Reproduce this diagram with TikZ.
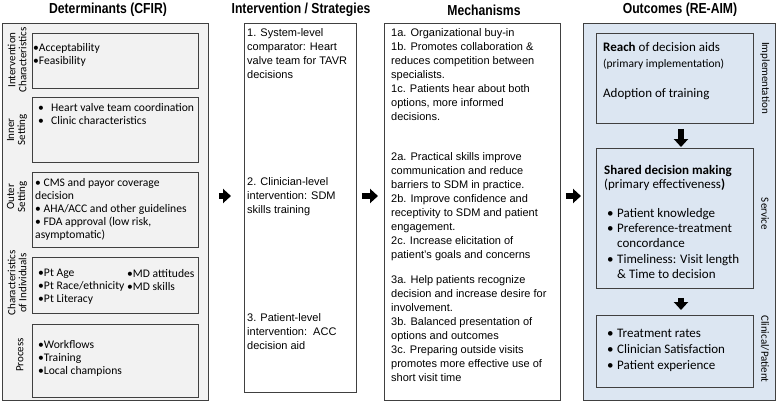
\documentclass[tikz,border=0pt]{standalone}
\usepackage{fontspec}
\setmainfont{Liberation Sans}
\newfontfamily\calibri{Carlito}
\newfontfamily\titlefont[FakeStretch=0.84]{Liberation Sans}
\usetikzlibrary{arrows.meta}
\definecolor{detgray}{HTML}{F2F2F2}
\definecolor{outblue}{HTML}{DCE6F2}
\definecolor{edgegray}{HTML}{404040}
\newcommand{\gapbullet}{\makebox[13pt][l]{•}}
\newcommand{\outbullet}{\makebox[10pt][l]{•}}

\begin{document}
\begin{tikzpicture}[x=1pt,y=-1pt,
    panel/.style={draw=edgegray, line width=0.8pt, inner sep=0pt, anchor=north west},
    fatarrow/.style={line width=6.5pt, -{Triangle[length=8pt,width=14pt]}},
    heading/.style={font=\titlefont\bfseries\fontsize{14.5}{16}\selectfont},
    arialtext/.style={anchor=north west, align=left, inner sep=0pt, font=\fontsize{11}{14.1}\selectfont},
    caltext/.style={anchor=north west, align=left, inner sep=0pt, font=\calibri\fontsize{11.6}{13}\selectfont},
    outtext/.style={anchor=north west, align=left, inner sep=0pt, font=\calibri\fontsize{13}{15.3}\selectfont},
    leftlab/.style={rotate=90, align=center, inner sep=0pt, font=\calibri\fontsize{11}{11}\selectfont},
    rightlab/.style={rotate=-90, inner sep=0pt, font=\calibri\fontsize{11}{12}\selectfont}]
    \useasboundingbox (0,0) rectangle (777,402);

    % Column headings
    \node[heading] (hdet) at (108,10) {Determinants (CFIR)};
    \node[heading] (hint) at (301,10) {Intervention / Strategies};
    \node[heading] (hmech) at (484,10) {Mechanisms};
    \node[heading] (hout) at (680,10) {Outcomes (RE-AIM)};

    % Draw the four column panels
    \node[panel, fill=detgray, minimum width=206pt, minimum height=377pt] (det) at (2,23) {};
    \node[panel, fill=white, minimum width=112pt, minimum height=369pt] (int) at (244,23) {};
    \node[panel, fill=white, minimum width=176pt, minimum height=377pt] (mech) at (384,23) {};
    \node[panel, fill=outblue, minimum width=192pt, minimum height=377pt] (out) at (583,23) {};

    % Draw the CFIR domain boxes
    \foreach \n/\t/\h in {d1/33/55pt, d2/97/65pt, d3/172/75pt, d4/257/56pt, d5/324/73pt}
        \node[panel, fill=detgray, minimum width=166pt, minimum height=\h] (\n) at (32,\t) {};

    % Draw the RE-AIM boxes
    \node[panel, fill=outblue, minimum width=157pt, minimum height=90pt] (reach) at (596,33) {};
    \node[panel, fill=outblue, minimum width=157pt, minimum height=140pt] (sdm) at (596,148) {};
    \node[panel, fill=outblue, minimum width=157pt, minimum height=72pt] (clin) at (596,315) {};

    % Domain labels
    \node[leftlab] (l1) at (17,60) {Intervention\\Characteristics};
    \node[leftlab] (l2) at (17,130) {Inner\\Setting};
    \node[leftlab] (l3) at (17,197) {Outer\\Setting};
    \node[leftlab] (l4) at (17,283) {Characteristics\\of Individuals};
    \node[leftlab] (l5) at (20,355) {Process};
    \node[rightlab] (r1) at (765,78) {Implementation};
    \node[rightlab] (r2) at (765,214) {Service};
    \node[rightlab] (r3) at (765,349) {Clinical/Patient};

    % Determinants
    \node[caltext] (t1) at (33,43) {•Acceptability\\•Feasibility};
    \node[caltext] (t2) at (38,103) {\gapbullet Heart valve team coordination\\\gapbullet Clinic characteristics};
    \node[caltext] (t3) at (35,178) {• CMS and payor coverage\\decision\\• AHA/ACC and other guidelines\\• FDA approval (low risk,\\asymptomatic)};
    \node[caltext] (t4) at (38,269) {•Pt Age\\•Pt Race/ethnicity\\•Pt Literacy};
    \node[caltext] (t4b) at (127,269) {•MD attitudes\\•MD skills};
    \node[caltext] (t5) at (38,340) {•Workflows\\•Training\\•Local champions};

    % Intervention / strategies
    \node[arialtext] (s1) at (247,28) {1. System-level\\comparator: Heart\\valve team for TAVR\\decisions};
    \node[arialtext] (s2) at (247,177) {2. Clinician-level\\intervention: SDM\\skills training};
    \node[arialtext] (s3) at (247,313) {3. Patient-level\\intervention:\ \ ACC\\decision aid};

    % Mechanisms
    \node[arialtext] (m1) at (391,28) {1a. Organizational buy-in\\1b. Promotes collaboration \&\\reduces competition between\\specialists.\\1c. Patients hear about both\\options, more informed\\decisions.};
    \node[arialtext] (m2) at (391,152) {2a. Practical skills improve\\communication and reduce\\barriers to SDM in practice.\\2b. Improve confidence and\\receptivity to SDM and patient\\engagement.\\2c. Increase elicitation of\\patient's goals and concerns};
    \node[arialtext] (m3) at (391,275) {3a. Help patients recognize\\decision and increase desire for\\involvement.\\3b. Balanced presentation of\\options and outcomes\\3c. Preparing outside visits\\promotes more effective use of\\short visit time};

    % Outcomes
    \node[outtext] (o1) at (603,42) {\textbf{Reach} of decision aids};
    \node[outtext, font=\calibri\fontsize{11.5}{13}\selectfont] (o2) at (603,59) {(primary implementation)};
    \node[outtext] (o3) at (603,88) {Adoption of training};
    \node[outtext, font=\calibri\fontsize{13}{14}\selectfont] (o4) at (604,165) {\textbf{Shared decision making}\\(primary effectiveness\textbf{)}};
    \node[outtext] (o5) at (607,208) {\outbullet Patient knowledge\\\outbullet Preference-treatment\\\hspace*{10pt}concordance\\\outbullet Timeliness: Visit length\\\hspace*{10pt}\& Time to decision};
    \node[outtext, font=\calibri\fontsize{13}{16}\selectfont] (o6) at (607,329) {\outbullet Treatment rates\\\outbullet Clinician Satisfaction\\\outbullet Patient experience};

    % Arrows between the columns
    \coordinate (mid) at (0,196);
    \foreach \a/\b/\s/\e in {det/int/10pt/13pt, int/mech/5pt/6pt, mech/out/5pt/2pt}
        \draw[fatarrow, shorten <=\s, shorten >=\e] (\a.east |- mid) -- (\b.west |- mid);

    % Arrows inside the outcomes
    \coordinate (col) at (681,0);
    \draw[fatarrow, shorten <=5pt, shorten >=1pt] (reach.south -| col) -- (sdm.north -| col);
    \draw[fatarrow, shorten <=9pt, shorten >=5pt] (sdm.south -| col) -- (clin.north -| col);
\end{tikzpicture}
\end{document}
